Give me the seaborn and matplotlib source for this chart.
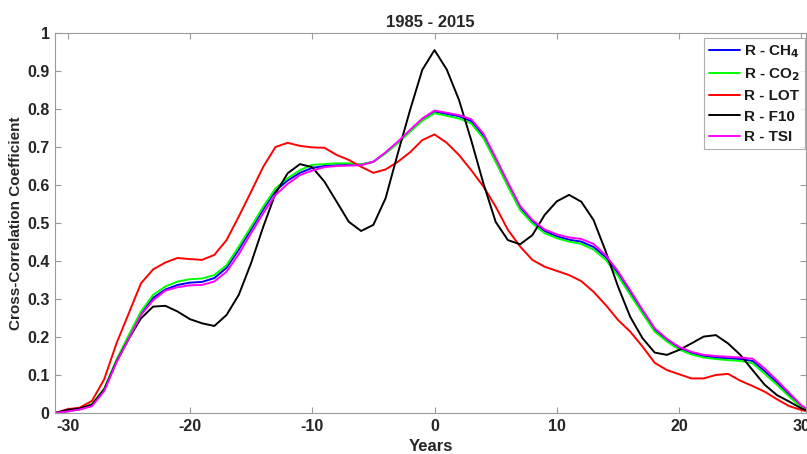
import numpy as np
import pandas as pd
import matplotlib
matplotlib.use("Agg")
import matplotlib.pyplot as plt
import seaborn as sns

years = list(range(-31, 32))

r_ch4 = [0, 0.005, 0.01, 0.021, 0.061, 0.138, 0.2, 0.26, 0.303, 0.325, 0.337, 0.343,
         0.345, 0.355, 0.382, 0.43, 0.483, 0.536, 0.585, 0.612, 0.632, 0.645,
         0.65, 0.652, 0.653, 0.654, 0.661, 0.685, 0.712, 0.743, 0.772, 0.793,
         0.787, 0.781, 0.768, 0.73, 0.668, 0.603, 0.541, 0.505, 0.479, 0.465,
         0.456, 0.451, 0.437, 0.41, 0.368, 0.318, 0.268, 0.22, 0.192, 0.171,
         0.158, 0.15, 0.146, 0.144, 0.142, 0.137, 0.11, 0.08, 0.048, 0.017, 0]
r_co2 = [0, 0.005, 0.01, 0.024, 0.065, 0.14, 0.205, 0.267, 0.311, 0.333, 0.346, 0.352,
         0.354, 0.363, 0.389, 0.438, 0.49, 0.543, 0.591, 0.618, 0.639, 0.653,
         0.655, 0.657, 0.657, 0.654, 0.661, 0.683, 0.71, 0.74, 0.769, 0.789,
         0.782, 0.775, 0.762, 0.723, 0.661, 0.596, 0.534, 0.499, 0.473, 0.46,
         0.451, 0.445, 0.43, 0.403, 0.361, 0.311, 0.262, 0.214, 0.188, 0.167,
         0.154, 0.146, 0.142, 0.139, 0.137, 0.131, 0.103, 0.074, 0.043, 0.015, 0]
r_lot = [0, 0.01, 0.014, 0.032, 0.089, 0.183, 0.262, 0.341, 0.378, 0.396, 0.408, 0.405,
         0.403, 0.416, 0.455, 0.517, 0.582, 0.648, 0.70, 0.711, 0.703, 0.699,
         0.698, 0.679, 0.666, 0.648, 0.632, 0.641, 0.661, 0.686, 0.718, 0.733,
         0.711, 0.679, 0.639, 0.596, 0.543, 0.482, 0.438, 0.403, 0.385, 0.374,
         0.363, 0.347, 0.319, 0.284, 0.245, 0.214, 0.175, 0.132, 0.113, 0.102,
         0.091, 0.091, 0.1, 0.103, 0.085, 0.071, 0.056, 0.036, 0.018, 0.008, 0]
r_f10 = [0, 0.008, 0.012, 0.022, 0.062, 0.135, 0.195, 0.249, 0.28, 0.282, 0.267, 0.247,
         0.236, 0.229, 0.258, 0.311, 0.394, 0.49, 0.578, 0.631, 0.655, 0.647,
         0.609, 0.556, 0.503, 0.479, 0.495, 0.565, 0.683, 0.797, 0.903, 0.955,
         0.904, 0.824, 0.718, 0.604, 0.503, 0.455, 0.444, 0.468, 0.521, 0.557,
         0.574, 0.556, 0.508, 0.425, 0.333, 0.253, 0.197, 0.159, 0.153, 0.166,
         0.183, 0.201, 0.205, 0.183, 0.153, 0.113, 0.074, 0.047, 0.03, 0.012, 0]
r_tsi = [0, 0.004, 0.009, 0.018, 0.058, 0.133, 0.195, 0.258, 0.297, 0.322, 0.331, 0.336,
         0.337, 0.346, 0.372, 0.418, 0.473, 0.526, 0.574, 0.603, 0.626, 0.638,
         0.647, 0.65, 0.651, 0.652, 0.661, 0.686, 0.714, 0.745, 0.775, 0.796,
         0.79, 0.784, 0.773, 0.735, 0.672, 0.607, 0.545, 0.508, 0.483, 0.47,
         0.462, 0.458, 0.445, 0.415, 0.373, 0.323, 0.272, 0.223, 0.195, 0.174,
         0.161, 0.153, 0.15, 0.148, 0.146, 0.143, 0.117, 0.086, 0.053, 0.02, 0]

labels = ["R - CH$_4$", "R - CO$_2$", "R - LOT", "R - F10", "R - TSI"]
colors = ["#0000ff", "#00ff00", "#ff0000", "#000000", "#ff00ff"]
series = [r_ch4, r_co2, r_lot, r_f10, r_tsi]

df = pd.concat([pd.DataFrame({"Years": years, "value": s, "series": lab})
                for s, lab in zip(series, labels)], ignore_index=True)

sns.set_theme(style="white")
plt.rcParams["font.family"] = ["Liberation Sans", "DejaVu Sans"]
plt.rcParams["font.weight"] = "bold"
plt.rcParams["mathtext.default"] = "bf"
plt.rcParams["axes.unicode_minus"] = False

fig = plt.figure(figsize=(8.07, 4.54), dpi=100)
ax = fig.add_axes([55.3 / 807, 41 / 454, (806 - 55.3) / 807, 380 / 454])

sns.lineplot(data=df, x="Years", y="value", hue="series", hue_order=labels,
             palette=dict(zip(labels, colors)), linewidth=1.4, ax=ax,
             estimator=None, sort=False)

ax.set_xlim(-31, 30.37)
ax.set_ylim(0, 1)
ax.set_xticks([-30, -20, -10, 0, 10, 20, 30])
ax.set_yticks(np.round(np.arange(0, 1.01, 0.1), 1))
ax.set_yticklabels(["0"] + [f"{v:.1f}" for v in np.arange(0.1, 1.0, 0.1)] + ["1"])
ax.tick_params(direction="in", length=4, width=0.8, colors="#9a9a9a",
               labelcolor="#262626", labelsize=11.5, top=True, right=True,
               bottom=True, left=True, pad=4)
for lab in ax.get_xticklabels() + ax.get_yticklabels():
    lab.set_fontweight("bold")
for sp in ax.spines.values():
    sp.set_color("#9a9a9a")
    sp.set_linewidth(0.8)

ax.set_xlabel("Years", fontsize=12, fontweight="bold", color="#262626", labelpad=4)
ax.set_ylabel("Cross-Correlation Coefficient", fontsize=11, fontweight="bold",
              color="#262626", labelpad=3)
ax.set_title("1985 - 2015", fontsize=12, fontweight="bold", color="#262626", pad=4)

leg = ax.legend(loc="upper right", bbox_to_anchor=(1.005, 1.0), frameon=True,
                fancybox=False, edgecolor="#9a9a9a", fontsize=11,
                handlelength=2.0, handletextpad=0.25, labelspacing=0.42,
                borderpad=0.35, borderaxespad=0.3)
leg.get_frame().set_linewidth(0.8)
for t in leg.get_texts():
    t.set_fontweight("bold")
    t.set_color("#1a1a1a")

fig.savefig("out.png", dpi=100)
